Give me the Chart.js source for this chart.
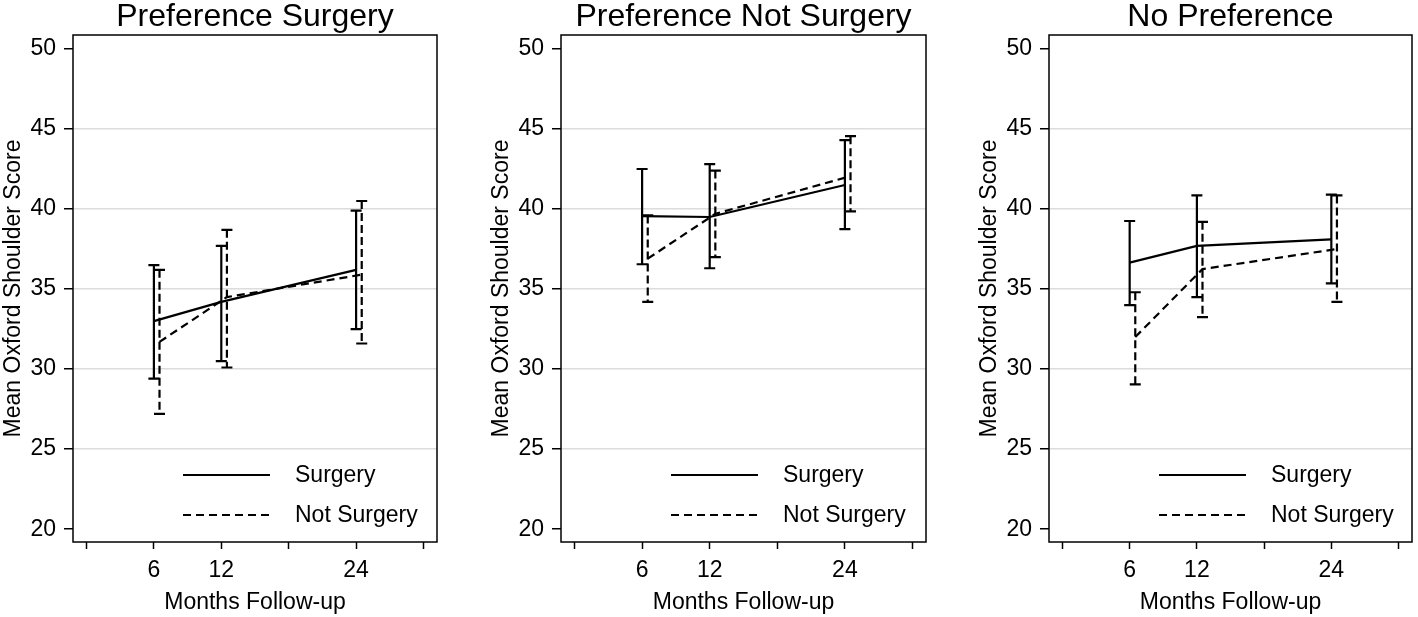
<!DOCTYPE html>
<html>
<head>
<meta charset="utf-8">
<script src="https://cdn.jsdelivr.net/npm/chart.js"></script>
<style>
    body { margin: 0; background: #fff; }
    .panel { position: absolute; top: 0; }
</style>
</head>
<body>
<div class="panel" style="left:0px"><canvas id="chart1" width="442" height="617"></canvas></div>
<div class="panel" style="left:488px"><canvas id="chart2" width="442" height="617"></canvas></div>
<div class="panel" style="left:976px"><canvas id="chart3" width="442" height="617"></canvas></div>
<script>
    // data
    const months = [6, 12, 24];
    const panelTitles = ['Preference Surgery', 'Preference Not Surgery', 'No Preference'];
    const seriesNames = ['Surgery', 'Not Surgery'];

    const surgMean1 = [33.0, 34.2, 36.2];
    const surgLow1 = [29.4, 30.5, 32.5];
    const surgHigh1 = [36.5, 37.7, 39.9];
    const notMean1 = [31.7, 34.5, 35.9];
    const notLow1 = [27.2, 30.1, 31.6];
    const notHigh1 = [36.2, 38.7, 40.5];

    const surgMean2 = [39.55, 39.5, 41.5];
    const surgLow2 = [36.55, 36.3, 38.75];
    const surgHigh2 = [42.5, 42.8, 44.3];
    const notMean2 = [36.9, 39.7, 42.05];
    const notLow2 = [34.2, 37.0, 39.85];
    const notHigh2 = [39.6, 42.4, 44.55];

    const surgMean3 = [36.65, 37.7, 38.1];
    const surgLow3 = [34.0, 34.5, 35.35];
    const surgHigh3 = [39.25, 40.85, 40.9];
    const notMean3 = [32.0, 36.25, 37.5];
    const notLow3 = [29.05, 33.25, 34.2];
    const notHigh3 = [34.8, 39.2, 40.85];

    const xTickValues = [0, 6, 12, 18, 24, 30];
    const xTickLabels = [6, 12, 24];
    const yTickValues = [20, 25, 30, 35, 40, 45, 50];

    const dodge = 0.5; // Not Surgery bars sit a little to the right

    Chart.defaults.font.family = '"Liberation Sans", Arial, sans-serif';
    Chart.defaults.color = '#000';

    // error bars, plot box and the legend inside the plot
    const stataDecor = {
        id: 'stataDecor',
        afterDatasetsDraw(chart) {
            const ctx = chart.ctx;
            const xs = chart.scales.x, ys = chart.scales.y;
            chart.data.datasets.forEach(ds => {
                ds.data.forEach((p, i) => {
                    const px = xs.getPixelForValue(p.x);
                    const yLo = ys.getPixelForValue(ds.lower[i]);
                    const yHi = ys.getPixelForValue(ds.upper[i]);
                    ctx.save();
                    ctx.strokeStyle = '#000';
                    ctx.lineWidth = 2.2;
                    ctx.setLineDash(ds.barDash);
                    ctx.beginPath();
                    ctx.moveTo(px, yHi);
                    ctx.lineTo(px, yLo);
                    ctx.stroke();
                    ctx.setLineDash([]);
                    ctx.beginPath();
                    ctx.moveTo(px - 5.5, yHi);
                    ctx.lineTo(px + 5.5, yHi);
                    ctx.moveTo(px - 5.5, yLo);
                    ctx.lineTo(px + 5.5, yLo);
                    ctx.stroke();
                    ctx.restore();
                });
            });
        },
        afterDraw(chart) {
            const ctx = chart.ctx;
            const a = chart.chartArea;
            ctx.save();
            ctx.strokeStyle = '#000';
            ctx.lineWidth = 1.5;
            ctx.strokeRect(a.left, a.top, a.right - a.left, a.bottom - a.top);

            // legend
            const rows = [a.bottom - 67, a.bottom - 27];
            ctx.font = '23px "Liberation Sans", Arial, sans-serif';
            ctx.fillStyle = '#000';
            ctx.textBaseline = 'middle';
            chart.data.datasets.forEach((ds, i) => {
                ctx.lineWidth = 2.2;
                ctx.setLineDash(ds.borderDash || []);
                ctx.beginPath();
                ctx.moveTo(a.left + 110, rows[i]);
                ctx.lineTo(a.left + 197, rows[i]);
                ctx.stroke();
                ctx.setLineDash([]);
                ctx.fillText(ds.label, a.left + 222, rows[i] + 1);
            });
            ctx.restore();
        }
    };

    function makePanel(canvasId, title, sMean, sLow, sHigh, nMean, nLow, nHigh, padRight) {
        const ctx = document.getElementById(canvasId).getContext('2d');
        return new Chart(ctx, {
            type: 'line',
            data: {
                datasets: [{
                    label: seriesNames[0],
                    data: months.map((m, i) => ({ x: m, y: sMean[i] })),
                    lower: sLow,
                    upper: sHigh,
                    borderColor: '#000',
                    borderWidth: 2.2,
                    borderDash: [],
                    barDash: [],
                    pointRadius: 0,
                    tension: 0
                }, {
                    label: seriesNames[1],
                    data: months.map((m, i) => ({ x: m + dodge, y: nMean[i] })),
                    lower: nLow,
                    upper: nHigh,
                    borderColor: '#000',
                    borderWidth: 2.2,
                    borderDash: [8, 5],
                    barDash: [8, 4],
                    pointRadius: 0,
                    tension: 0
                }]
            },
            options: {
                responsive: false,
                animation: false,
                layout: { padding: { top: 0, left: 0, right: padRight, bottom: 0 } },
                plugins: {
                    legend: { display: false },
                    tooltip: { enabled: false },
                    title: {
                        display: true,
                        fullSize: false,
                        text: title,
                        color: '#000',
                        font: { size: 32, weight: 'normal', lineHeight: 0.875 },
                        padding: { top: 3, bottom: 4 }
                    }
                },
                scales: {
                    x: {
                        type: 'linear',
                        min: -1.2,
                        max: 31.2,
                        afterBuildTicks: s => { s.ticks = xTickValues.map(v => ({ value: v })); },
                        afterFit: s => { s.height = 75; },
                        grid: { drawOnChartArea: false, tickColor: '#000', tickLength: 7, tickWidth: 1.5 },
                        border: { display: false },
                        ticks: {
                            padding: 8,
                            font: { size: 23 },
                            maxRotation: 0,
                            autoSkip: false,
                            callback: v => xTickLabels.includes(v) ? String(v) : ''
                        },
                        title: {
                            display: true,
                            text: 'Months Follow-up',
                            font: { size: 23 },
                            padding: { top: 0, bottom: 1 }
                        }
                    },
                    y: {
                        min: 19.2,
                        max: 50.87,
                        afterBuildTicks: s => { s.ticks = yTickValues.map(v => ({ value: v })); },
                        afterFit: s => { s.width = 73; },
                        grid: {
                            color: c => (c.tick && (c.tick.value === 20 || c.tick.value === 50)) ? 'rgba(0,0,0,0)' : '#dcdcdc',
                            lineWidth: 1.5,
                            tickColor: '#000',
                            tickLength: 9,
                            tickWidth: 1.5
                        },
                        border: { display: false },
                        ticks: { padding: 8, font: { size: 23 } },
                        title: {
                            display: true,
                            text: 'Mean Oxford Shoulder Score',
                            font: { size: 23 },
                            padding: { top: 0, bottom: 0 }
                        }
                    }
                }
            },
            plugins: [stataDecor]
        });
    }

    makePanel('chart1', panelTitles[0], surgMean1, surgLow1, surgHigh1, notMean1, notLow1, notHigh1, 5);
    makePanel('chart2', panelTitles[1], surgMean2, surgLow2, surgHigh2, notMean2, notLow2, notHigh2, 4);
    makePanel('chart3', panelTitles[2], surgMean3, surgLow3, surgHigh3, notMean3, notLow3, notHigh3, 6);
</script>
</body>
</html>
